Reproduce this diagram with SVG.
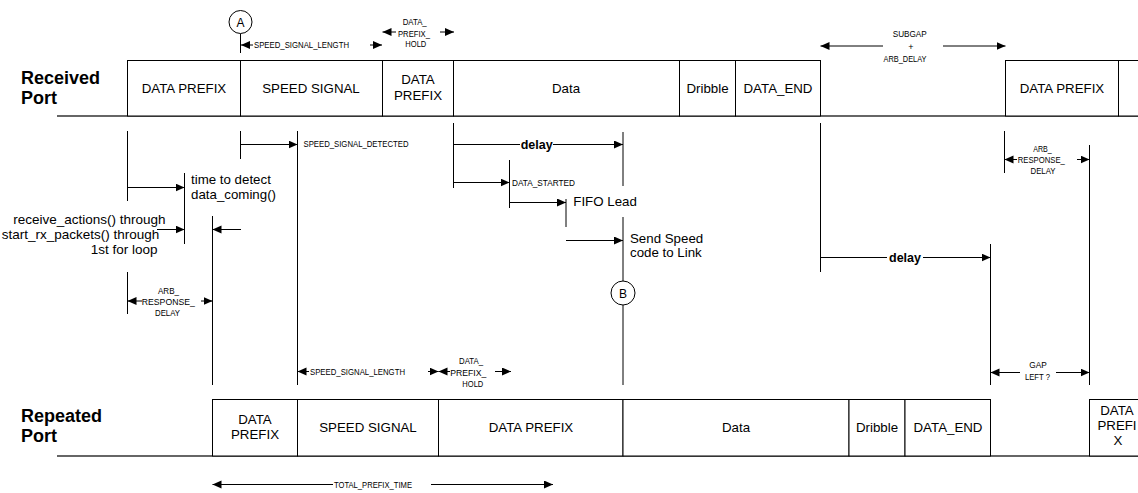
<svg xmlns="http://www.w3.org/2000/svg" width="1138" height="493" viewBox="0 0 1138 493">
<defs>
<marker id="ah" markerUnits="userSpaceOnUse" markerWidth="10" markerHeight="9" refX="9" refY="4" orient="auto">
<path d="M0,0 L9,4 L0,8 z" fill="#000"/>
</marker>
<style>
.box{fill:#fff;stroke:#000;stroke-width:1}
.base{stroke:#333;stroke-width:1.6;fill:none}
.ln{stroke:#000;stroke-width:1;fill:none}
.ar{stroke:#000;stroke-width:1;fill:none;marker-end:url(#ah)}
.bt{font-family:"Liberation Sans",Arial,sans-serif;font-size:13.3px;fill:#000;text-anchor:middle}
.lab{font-family:"Liberation Sans",Arial,sans-serif;font-size:18px;font-weight:bold;fill:#000}
.tx{font-family:"Liberation Sans",Arial,sans-serif;font-size:13.3px;fill:#000}
.sm{font-family:"Liberation Sans Narrow","Liberation Sans",Arial,sans-serif;font-size:9px;fill:#000}
.smc{font-family:"Liberation Sans Narrow","Liberation Sans",Arial,sans-serif;font-size:9px;fill:#000;text-anchor:middle}
.dl{font-family:"Liberation Sans",Arial,sans-serif;font-size:12.5px;font-weight:bold;fill:#000;text-anchor:middle}
.circ{fill:#fff;stroke:#000;stroke-width:1}
</style>
</defs>
<rect width="1138" height="493" fill="#fff"/>

<g id="received-port">
<text class="lab" x="21" y="84">Received</text>
<text class="lab" x="21" y="104">Port</text>
<line class="base" x1="57" y1="116" x2="1138" y2="116"/>
</g>
<g id="rx-data-prefix-1"><rect class="box" x="127.5" y="60.5" width="113" height="55.5"/><text class="bt" x="184" y="93">DATA PREFIX</text></g>
<g id="rx-speed-signal"><rect class="box" x="240.5" y="60.5" width="142" height="55.5"/><text class="bt" x="311" y="93">SPEED SIGNAL</text></g>
<g id="rx-data-prefix-2"><rect class="box" x="382.5" y="60.5" width="71" height="55.5"/><text class="bt" x="418" y="84">DATA</text><text class="bt" x="418" y="99.5">PREFIX</text></g>
<g id="rx-data"><rect class="box" x="453.5" y="60.5" width="226" height="55.5"/><text class="bt" x="566" y="93">Data</text></g>
<g id="rx-dribble"><rect class="box" x="679.5" y="60.5" width="56" height="55.5"/><text class="bt" x="707.5" y="93">Dribble</text></g>
<g id="rx-data-end"><rect class="box" x="735.5" y="60.5" width="85" height="55.5"/><text class="bt" x="778" y="93">DATA_END</text></g>
<g id="rx-data-prefix-3"><rect class="box" x="1005.5" y="60.5" width="113" height="55.5"/><text class="bt" x="1062" y="93">DATA PREFIX</text></g>
<g id="rx-next"><rect class="box" x="1118.5" y="60.5" width="40" height="55.5"/></g>

<g id="repeated-port">
<text class="lab" x="21" y="422">Repeated</text>
<text class="lab" x="21" y="442">Port</text>
<line class="base" x1="57" y1="456" x2="1138" y2="456"/>
</g>
<g id="tx-data-prefix-1"><rect class="box" x="212.5" y="399.5" width="85" height="56.5"/><text class="bt" x="255" y="424">DATA</text><text class="bt" x="255" y="439">PREFIX</text></g>
<g id="tx-speed-signal"><rect class="box" x="297.5" y="399.5" width="141" height="56.5"/><text class="bt" x="368" y="432">SPEED SIGNAL</text></g>
<g id="tx-data-prefix-2"><rect class="box" x="438.5" y="399.5" width="184.5" height="56.5"/><text class="bt" x="531" y="432">DATA PREFIX</text></g>
<g id="tx-data"><rect class="box" x="623" y="399.5" width="226" height="56.5"/><text class="bt" x="736" y="432">Data</text></g>
<g id="tx-dribble"><rect class="box" x="849" y="399.5" width="56" height="56.5"/><text class="bt" x="877" y="432">Dribble</text></g>
<g id="tx-data-end"><rect class="box" x="905" y="399.5" width="85.5" height="56.5"/><text class="bt" x="948" y="432">DATA_END</text></g>
<g id="tx-data-prefix-3"><rect class="box" x="1089.5" y="399.5" width="58" height="56.5"/><text class="bt" x="1117" y="415">DATA</text><text class="bt" x="1117" y="430">PREFI</text><text class="bt" x="1118" y="445">X</text></g>

<g id="marker-a"><line class="ln" x1="240.5" y1="33.5" x2="240.5" y2="53"/><circle class="circ" cx="240.5" cy="22" r="11.5"/><text class="bt" x="240.5" y="26.5" style="font-size:12px">A</text></g>
<g id="marker-b"><line class="ln" x1="623" y1="217" x2="623" y2="385"/><circle class="circ" cx="623" cy="293" r="12"/><text class="bt" x="623" y="297.5" style="font-size:12px">B</text></g>

<g id="connectors">
<!-- top dimensions -->
<line class="ar" x1="253" y1="45" x2="241" y2="45"/>
<line class="ar" x1="370" y1="45" x2="382" y2="45"/>
<line class="ar" x1="396" y1="32" x2="382.5" y2="32"/>
<line class="ar" x1="440" y1="32" x2="454" y2="32"/>
<line class="ar" x1="883" y1="46" x2="820.5" y2="46"/>
<line class="ar" x1="943" y1="46" x2="1005.5" y2="46"/>
<!-- left timing -->
<line class="ln" x1="127.5" y1="131" x2="127.5" y2="201"/>
<line class="ar" x1="127.5" y1="187.5" x2="184.5" y2="187.5"/>
<line class="ln" x1="184.5" y1="173" x2="184.5" y2="244"/>
<line class="ar" x1="157" y1="229.5" x2="184.5" y2="229.5"/>
<line class="ln" x1="212.5" y1="216" x2="212.5" y2="385"/>
<line class="ar" x1="241" y1="229.5" x2="212.5" y2="229.5"/>
<line class="ln" x1="240.5" y1="131" x2="240.5" y2="159"/>
<line class="ar" x1="240.5" y1="144.5" x2="297.5" y2="144.5"/>
<line class="ln" x1="297.5" y1="131" x2="297.5" y2="385"/>
<line class="ln" x1="127.5" y1="272" x2="127.5" y2="314"/>
<line class="ar" x1="142" y1="301" x2="127.5" y2="301"/>
<line class="ar" x1="201" y1="301" x2="212.5" y2="301"/>
<!-- data timing -->
<line class="ln" x1="453.5" y1="123" x2="453.5" y2="188"/>
<line class="ln" x1="453.5" y1="144.5" x2="520" y2="144.5"/>
<line class="ar" x1="553" y1="144.5" x2="623" y2="144.5"/>
<line class="ln" x1="623" y1="132" x2="623" y2="186"/>
<line class="ar" x1="453.5" y1="182.5" x2="509.5" y2="182.5"/>
<line class="ln" x1="509.5" y1="160" x2="509.5" y2="208"/>
<line class="ar" x1="509.5" y1="202.5" x2="566" y2="202.5"/>
<line class="ln" x1="566" y1="199" x2="566" y2="227"/>
<line class="ar" x1="566" y1="240.5" x2="623" y2="240.5"/>
<!-- right timing -->
<line class="ln" x1="820.5" y1="123" x2="820.5" y2="272"/>
<line class="ln" x1="820.5" y1="257.5" x2="887" y2="257.5"/>
<line class="ar" x1="923" y1="257.5" x2="990.5" y2="257.5"/>
<line class="ln" x1="990.5" y1="244" x2="990.5" y2="385"/>
<line class="ln" x1="1004.5" y1="131" x2="1004.5" y2="173"/>
<line class="ar" x1="1017" y1="159.5" x2="1004.5" y2="159.5"/>
<line class="ar" x1="1077" y1="159.5" x2="1089.5" y2="159.5"/>
<line class="ln" x1="1089.5" y1="145" x2="1089.5" y2="385"/>
<!-- bottom dimensions -->
<line class="ar" x1="309" y1="371.5" x2="297.5" y2="371.5"/>
<line class="ar" x1="428" y1="371.5" x2="438.5" y2="371.5"/>
<line class="ar" x1="450" y1="371.5" x2="438.5" y2="371.5"/>
<line class="ar" x1="495" y1="371.5" x2="511" y2="371.5"/>
<line class="ar" x1="1020" y1="372.5" x2="990.5" y2="372.5"/>
<line class="ar" x1="1056" y1="372.5" x2="1089.5" y2="372.5"/>
<line class="ar" x1="333" y1="484.5" x2="212.5" y2="484.5"/>
<line class="ar" x1="431" y1="484.5" x2="553" y2="484.5"/>
</g>

<g id="labels">
<text class="sm" x="254" y="48.3" textLength="95" lengthAdjust="spacingAndGlyphs">SPEED_SIGNAL_LENGTH</text>
<text class="smc" x="414.7" y="25" textLength="24" lengthAdjust="spacingAndGlyphs">DATA_</text>
<text class="smc" x="414" y="36.5" textLength="32" lengthAdjust="spacingAndGlyphs">PREFIX_</text>
<text class="smc" x="415.8" y="46.5" textLength="21" lengthAdjust="spacingAndGlyphs">HOLD</text>
<text class="smc" x="909.7" y="37" textLength="34" lengthAdjust="spacingAndGlyphs">SUBGAP</text>
<text class="smc" x="911" y="49.5">+</text>
<text class="smc" x="905" y="61.5" textLength="43" lengthAdjust="spacingAndGlyphs">ARB_DELAY</text>
<text class="sm" x="303.5" y="147" textLength="105" lengthAdjust="spacingAndGlyphs">SPEED_SIGNAL_DETECTED</text>
<text class="tx" x="191" y="184">time to detect</text>
<text class="tx" x="191" y="199">data_coming()</text>
<text class="tx" x="13.3" y="224" style="font-size:13.5px">receive_actions() through</text>
<text class="tx" x="1.7" y="239" style="font-size:13.5px">start_rx_packets() through</text>
<text class="tx" x="90.7" y="254" style="font-size:13.5px">1st for loop</text>
<text class="smc" x="168.5" y="294" textLength="21" lengthAdjust="spacingAndGlyphs">ARB_</text>
<text class="smc" x="168.3" y="305" textLength="53" lengthAdjust="spacingAndGlyphs">RESPONSE_</text>
<text class="smc" x="167.5" y="316" textLength="25" lengthAdjust="spacingAndGlyphs">DELAY</text>
<text class="dl" x="536.7" y="149">delay</text>
<text class="sm" x="512" y="185.5" textLength="63" lengthAdjust="spacingAndGlyphs">DATA_STARTED</text>
<text class="tx" x="573.3" y="206">FIFO Lead</text>
<text class="tx" x="630" y="243.3">Send Speed</text>
<text class="tx" x="630" y="257.3">code to Link</text>
<text class="dl" x="905" y="262">delay</text>
<text class="smc" x="1042.5" y="151.5" textLength="18.5" lengthAdjust="spacingAndGlyphs">ARB_</text>
<text class="smc" x="1041.3" y="163" textLength="47" lengthAdjust="spacingAndGlyphs">RESPONSE_</text>
<text class="smc" x="1043" y="174" textLength="25" lengthAdjust="spacingAndGlyphs">DELAY</text>
<text class="sm" x="310" y="374.5" textLength="95" lengthAdjust="spacingAndGlyphs">SPEED_SIGNAL_LENGTH</text>
<text class="smc" x="471" y="364" textLength="24" lengthAdjust="spacingAndGlyphs">DATA_</text>
<text class="smc" x="468.3" y="375.5" textLength="36" lengthAdjust="spacingAndGlyphs">PREFIX_</text>
<text class="smc" x="472.8" y="386.5" textLength="21" lengthAdjust="spacingAndGlyphs">HOLD</text>
<text class="smc" x="1038" y="368.3" textLength="17.5" lengthAdjust="spacingAndGlyphs">GAP</text>
<text class="smc" x="1037.5" y="379.5" textLength="25" lengthAdjust="spacingAndGlyphs">LEFT ?</text>
<text class="sm" x="334" y="487.5" textLength="78" lengthAdjust="spacingAndGlyphs">TOTAL_PREFIX_TIME</text>
</g>
</svg>
